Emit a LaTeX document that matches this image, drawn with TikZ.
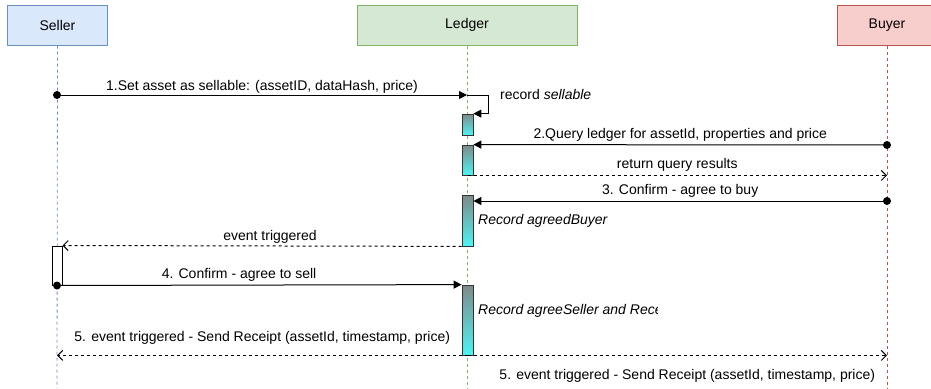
\documentclass[tikz,border=0pt]{standalone}
\usepackage{fontspec}
\setmainfont{Liberation Sans}
\usetikzlibrary{arrows.meta}

\definecolor{sellerfill}{HTML}{DAE8FC}
\definecolor{sellerline}{HTML}{6C8EBF}
\definecolor{ledgerfill}{HTML}{D5E8D4}
\definecolor{ledgerline}{HTML}{82B366}
\definecolor{buyerfill}{HTML}{F8CECC}
\definecolor{buyerline}{HTML}{B85450}
\definecolor{actgray}{HTML}{7F8A8A}
\definecolor{actcyan}{HTML}{50F2F2}

\tikzset{
  actor/.style={draw, line width=1pt, minimum width=100pt, minimum height=40pt,
    font=\fontsize{14}{16}\selectfont},
  lifeline/.style={line width=0.8pt, dash pattern=on 3pt off 3pt},
  actbox/.style={draw=black!80, line width=0.8pt, minimum width=11pt, inner sep=0pt,
    top color=actgray, bottom color=actcyan},
  msg/.style={line width=1pt, -{Triangle[length=8pt,width=8pt]}},
  reply/.style={line width=1pt, dash pattern=on 3pt off 3pt,
    -{Straight Barb[length=5pt,width=10pt,line width=1pt]}},
  lbl/.style={font=\fontsize{14}{16}\selectfont, text height=10pt, text depth=3pt, inner sep=0pt},
  dot/.style={circle, fill, inner sep=0pt, minimum size=8pt}
}

\begin{document}
\begin{tikzpicture}[x=1pt, y=-1pt]
  \useasboundingbox (0,0) rectangle (931,388);
  \clip (0,0) rectangle (931,388);

  % actors
  \node[actor, fill=sellerfill, draw=sellerline] (seller) at (57.5,25) {Seller};
  \node[actor, fill=ledgerfill, draw=ledgerline, minimum width=220pt] (ledger) at (467,25) {Ledger};
  \node[actor, fill=buyerfill, draw=buyerline] (buyer) at (887,25) {Buyer};

  % lifelines
  \coordinate (sellerend) at (57,388);
  \coordinate (ledgerend) at (467,388);
  \coordinate (buyerend) at (887,388);
  \draw[lifeline, sellerline] (seller.south) -- (sellerend);
  \draw[lifeline, ledgerline] (ledger.south) -- (ledgerend);
  \draw[lifeline, buyerline] (buyer.south) -- (buyerend);

  % activations
  \node[actbox, minimum height=21pt] (a1) at (467.5,124.5) {};
  \node[actbox, minimum height=30pt] (a2) at (467.5,160) {};
  \node[actbox, minimum height=51pt] (a3) at (467.5,220.5) {};
  \node[actbox, minimum height=70pt] (a4) at (467.5,320) {};
  \node[draw, fill=white, line width=1pt, minimum width=10pt, minimum height=39pt, inner sep=0pt] (sbox) at (57,265.5) {};

  % 1
  \node[dot] (s1) at (57,95) {};
  \coordinate (l1) at (467,95);
  \draw[msg] (s1.center) -- (l1) node[lbl, midway, yshift=8pt] {1.Set asset as sellable: (assetID, dataHash, price)};
  \draw[msg] (l1) -- ++(21,0) |- (a1.north east);
  \node[lbl, anchor=west] (rec1) at (500,96) {record \textit{sellable}};

  % 2
  \node[dot] (b2) at (887,145) {};
  \draw[msg] (b2.center) -- (a2.north east) node[lbl, midway, yshift=10pt] {2.Query ledger for assetId, properties and price};
  \draw[reply] (a2.south) -- (a2.south -| buyerend) node[lbl, midway, yshift=10pt] {return query results};

  % 3
  \node[dot] (b3) at (887,201) {};
  \draw[msg] (b3.center) -- (b3 -| a3.east) node[lbl, midway, yshift=10pt] {3. Confirm - agree to buy};
  \node[lbl, anchor=west] (rec2) at (478,221) {\textit{Record agreedBuyer}};
  \draw[reply] (a3.south west) -- (sbox.north east) node[lbl, pos=0.48, yshift=9pt] {event triggered};

  % 4
  \node[dot] (s4) at (sbox.south) {};
  \draw[msg] (s4.center) -- (a4.north west) node[lbl, pos=0.45, yshift=10pt] {4. Confirm - agree to sell};
  \begin{scope}
    \clip (478,295) rectangle (657,325);
    \node[lbl, anchor=west] (rec3) at (478,311) {\textit{Record agreeSeller and Receipt}};
  \end{scope}

  % 5
  \draw[reply] (a4.south) -- (a4.south -| sellerend) node[lbl, midway, yshift=17pt] {5. event triggered - Send Receipt (assetId, timestamp, price)};
  \draw[reply] (a4.south) -- (a4.south -| buyerend) node[lbl, midway, xshift=10pt, yshift=-21pt] {5. event triggered - Send Receipt (assetId, timestamp, price)};
\end{tikzpicture}
\end{document}
